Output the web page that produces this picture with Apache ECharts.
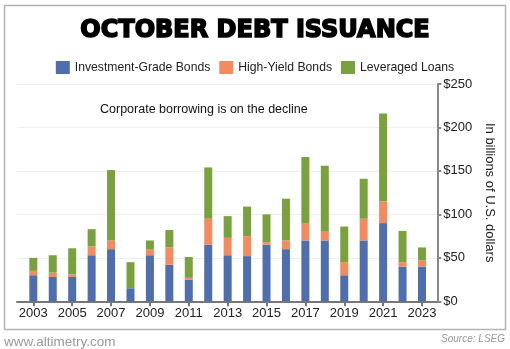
<!DOCTYPE html>
<html><head><meta charset="utf-8">
<script src="https://cdn.jsdelivr.net/npm/echarts@6/dist/echarts.min.js"></script>
<style>html,body{margin:0;padding:0;background:#fff}#c{width:510px;height:349px}</style>
</head><body><div id="c"></div>
<script>
const years = ['2003','2004','2005','2006','2007','2008','2009','2010','2011','2012','2013','2014','2015','2016','2017','2018','2019','2020','2021','2022','2023'];
const investmentGrade = [30,28,28,53,60,15,53,42,25,65,53,52,65,60,70,70,30,70,90,40,40];
const highYield = [5,5,3,10,10,0,7,20,2,30,20,23,3,10,20,10,15,25,25,5,7];
const leveragedLoans = [15,20,30,20,81,30,10,20,24,59,25,34,32,48,76,76,41,46,101,36,15];
const seriesNames = ['Investment-Grade Bonds','High-Yield Bonds','Leveraged Loans'];
const colors = ['#4e6ead','#f38b5e','#79a23f'];

const font = 'Liberation Sans';
const chart = echarts.init(document.getElementById('c'), null, {renderer:'canvas'});
const mk = (name, data, color) => ({
  name, type:'bar', stack:'total', barWidth:8, data,
  xAxisIndex:1, yAxisIndex:1,
  itemStyle:{color}, emphasis:{disabled:true}
});
chart.setOption({
  animation:false,
  backgroundColor:'#fff',
  title:{
    text:'OCTOBER DEBT ISSUANCE', left:'center', top:14,
    textStyle:{fontFamily:'DejaVu Sans', fontWeight:'900', fontSize:24, color:'#000',
      textBorderColor:'#000', textBorderWidth:1.6}
  },
  legend:{
    top:56, left:'center', itemWidth:14, itemHeight:13, itemGap:9,
    icon:'rect',
    textStyle:{fontFamily:font, fontSize:12.2, color:'#222'},
    data: seriesNames
  },
  color: colors,
  grid:[
    {left:17, right:72.7, top:84, bottom:47.7},
    {left:23.6, right:78.3, top:84, bottom:47.7}
  ],
  xAxis:[
    {
      type:'value', gridIndex:0, min:0, max:1,
      splitLine:{show:false}, axisTick:{show:false}, axisLabel:{show:false},
      axisLine:{show:true, onZero:false, lineStyle:{color:'#777', width:2}}
    },
    {
      type:'category', gridIndex:1, data:years, boundaryGap:true,
      axisLine:{show:false},
      axisTick:{show:true, alignWithLabel:true, interval:1, length:5, lineStyle:{color:'#777', width:2}},
      axisLabel:{interval:1, fontFamily:font, fontSize:13, color:'#222', margin:6}
    }
  ],
  yAxis:[
    {
      type:'value', gridIndex:0, position:'right', min:0, max:250, interval:50,
      axisLine:{show:true, onZero:false, lineStyle:{color:'#888', width:2}},
      axisTick:{show:true, length:4, lineStyle:{color:'#888', width:2}},
      splitLine:{show:true, lineStyle:{color:'#eeeeee', width:1}},
      axisLabel:{fontFamily:font, fontSize:13, color:'#222', margin:6, formatter:v=>'$'+v},
      name:'In billions of U.S. dollars', nameLocation:'middle', nameRotate:-90, nameGap:44,
      nameTextStyle:{fontFamily:font, fontSize:13, color:'#222'}
    },
    {
      type:'value', gridIndex:1, min:0, max:250, interval:50, show:false,
      splitLine:{show:false}
    }
  ],
  series:[
    mk(seriesNames[0], investmentGrade, colors[0]),
    mk(seriesNames[1], highYield, colors[1]),
    mk(seriesNames[2], leveragedLoans, colors[2])
  ],
  graphic:[
    {type:'rect', shape:{x:4.5,y:5.5,width:501,height:324}, style:{fill:'none', stroke:'#b3b3b3', lineWidth:1.5}, silent:true},
    {type:'text', left:100, top:103, style:{text:'Corporate borrowing is on the decline', font:'12.5px "Liberation Sans"', fill:'#111'}},
    {type:'text', left:4, top:335, style:{text:'www.altimetry.com', font:'13.5px "Liberation Sans"', fill:'#999'}},
    {type:'text', right:5, top:334, style:{text:'Source: LSEG', font:'italic 10px "Liberation Sans"', fill:'#999'}}
  ]
});
</script></body></html>
